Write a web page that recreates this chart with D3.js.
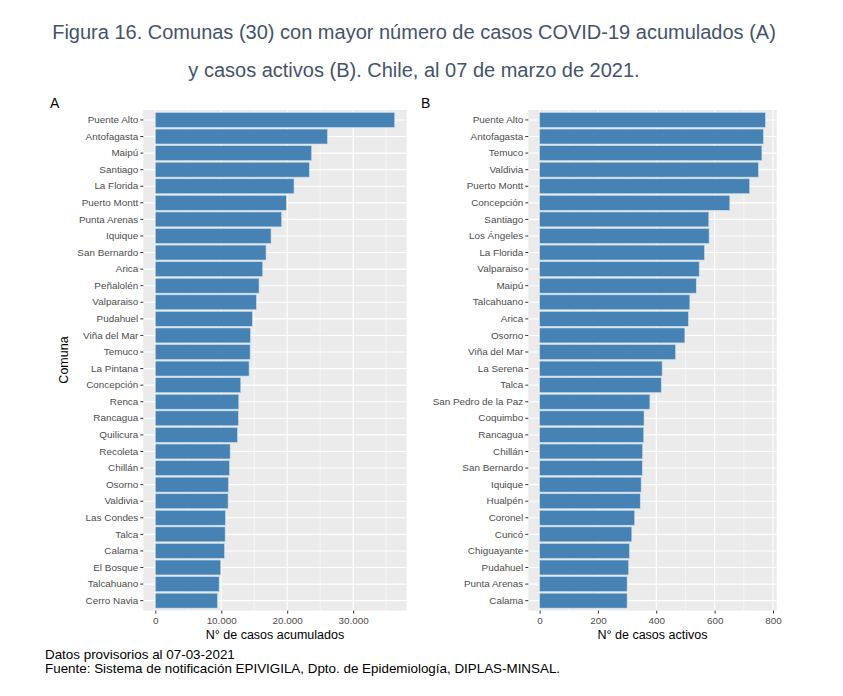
<!DOCTYPE html>
<html>
<head>
<meta charset="utf-8">
<script src="https://cdn.jsdelivr.net/npm/d3@7"></script>
<style>
  body { margin: 0; background: #fff; }
  svg { display: block; font-family: "Liberation Sans", Arial, sans-serif; }
</style>
</head>
<body>
<svg id="chart" width="843" height="696"></svg>
<script>
// ---- Data ----
const comunasA = ["Puente Alto","Antofagasta","Maipú","Santiago","La Florida","Puerto Montt","Punta Arenas","Iquique","San Bernardo","Arica","Peñalolén","Valparaiso","Pudahuel","Viña del Mar","Temuco","La Pintana","Concepción","Renca","Rancagua","Quilicura","Recoleta","Chillán","Osorno","Valdivia","Las Condes","Talca","Calama","El Bosque","Talcahuano","Cerro Navia"];
const acumulados = [36300,26100,23700,23350,21030,19870,19160,17550,16790,16290,15730,15330,14720,14420,14380,14220,12960,12660,12600,12460,11350,11250,11090,11040,10640,10590,10490,9930,9680,9430];
const ticksA = [0,10000,20000,30000];
const minorA = [5000,15000,25000,35000];

const comunasB = ["Puente Alto","Antofagasta","Temuco","Valdivia","Puerto Montt","Concepción","Santiago","Los Ángeles","La Florida","Valparaiso","Maipú","Talcahuano","Arica","Osorno","Viña del Mar","La Serena","Talca","San Pedro de la Paz","Coquimbo","Rancagua","Chillán","San Bernardo","Iquique","Hualpén","Coronel","Curicó","Chiguayante","Pudahuel","Punta Arenas","Calama"];
const activos = [774,767,762,750,720,652,580,581,565,547,537,515,510,498,466,420,417,378,358,357,353,352,348,345,326,316,308,305,300,300];
const ticksB = [0,200,400,600,800];
const minorB = [100,300,500,700];

const titleLines = ["Figura 16. Comunas (30) con mayor número de casos COVID-19 acumulados (A)",
                    "y casos activos (B). Chile, al 07 de marzo de 2021."];
const footLines = ["Datos provisorios al 07-03-2021",
                   "Fuente: Sistema de notificación EPIVIGILA, Dpto. de Epidemiología, DIPLAS-MINSAL."];

// ---- Setup ----
const svg = d3.select("#chart");
svg.append("rect").attr("width",843).attr("height",696).attr("fill","#fff");

const loc = d3.formatLocale({decimal:",", thousands:".", grouping:[3], currency:["$",""]});
const fmt = loc.format(",d");

svg.selectAll("text.title").data(titleLines).join("text")
  .attr("class","title")
  .attr("x",414).attr("y",(d,i)=>39+i*38)
  .attr("text-anchor","middle")
  .attr("font-size",20)
  .attr("fill","#44546A")
  .text(d=>d);

svg.selectAll("text.foot").data(footLines).join("text")
  .attr("class","foot")
  .attr("x",45).attr("y",(d,i)=>659+i*14.3)
  .attr("font-size",13.4)
  .attr("fill","#000")
  .text(d=>d);

function panel(opts){
  const {cats, vals, ticks, minor, left, right, top, bottom, letter, letterX, xTitle, format} = opts;
  const g = svg.append("g");
  const maxV = d3.max(vals);
  const x = d3.scaleLinear().domain([-0.05*maxV, 1.05*maxV]).range([left,right]);
  const y = d3.scaleBand().domain(cats).range([top,bottom]).paddingInner(0.1).paddingOuter(0.15);

  g.append("rect").attr("x",left).attr("y",top).attr("width",right-left).attr("height",bottom-top).attr("fill","#EBEBEB");
  // minor grid
  g.selectAll("line.minor").data(minor).join("line")
    .attr("x1",d=>x(d)).attr("x2",d=>x(d)).attr("y1",top).attr("y2",bottom)
    .attr("stroke","#fff").attr("stroke-width",0.55);
  // major grid x
  g.selectAll("line.majx").data(ticks).join("line")
    .attr("x1",d=>x(d)).attr("x2",d=>x(d)).attr("y1",top).attr("y2",bottom)
    .attr("stroke","#fff").attr("stroke-width",1.1);
  // major grid y
  g.selectAll("line.majy").data(cats).join("line")
    .attr("x1",left).attr("x2",right)
    .attr("y1",d=>y(d)+y.bandwidth()/2).attr("y2",d=>y(d)+y.bandwidth()/2)
    .attr("stroke","#fff").attr("stroke-width",1.1);
  // bars
  g.selectAll("rect.bar").data(cats).join("rect")
    .attr("x",x(0)).attr("y",d=>y(d))
    .attr("width",(d,i)=>x(vals[i])-x(0))
    .attr("height",y.bandwidth())
    .attr("fill","#4682B4")
    .attr("stroke","#C9DDEE").attr("stroke-width",0.6);

  // y axis
  const ya = g.append("g").attr("transform",`translate(${left},0)`)
    .call(d3.axisLeft(y).tickSize(3).tickPadding(2));
  ya.select(".domain").remove();
  ya.selectAll(".tick line").attr("stroke","#333").attr("stroke-width",1);
  ya.selectAll(".tick text").attr("fill","#4D4D4D").attr("font-size",9.9)
    .attr("font-family","'Liberation Sans', Arial, sans-serif");

  // x axis
  const xa = g.append("g").attr("transform",`translate(0,${bottom})`)
    .call(d3.axisBottom(x).tickValues(ticks).tickFormat(format).tickSize(3).tickPadding(3));
  xa.select(".domain").remove();
  xa.selectAll(".tick line").attr("stroke","#333").attr("stroke-width",1);
  xa.selectAll(".tick text").attr("fill","#4D4D4D").attr("font-size",9.9)
    .attr("font-family","'Liberation Sans', Arial, sans-serif");

  g.append("text").attr("x",(left+right)/2).attr("y",bottom+28)
    .attr("text-anchor","middle").attr("font-size",12.5).attr("fill","#000").text(xTitle);

  g.append("text").attr("x",letterX).attr("y",108)
    .attr("font-size",14).attr("fill","#000").text(letter);
  return {x,y};
}

panel({cats:comunasA, vals:acumulados, ticks:ticksA, minor:minorA,
  left:143.3, right:406.7, top:110, bottom:610.6,
  letter:"A", letterX:50, xTitle:"N° de casos acumulados", format:fmt});

panel({cats:comunasB, vals:activos, ticks:ticksB, minor:minorB,
  left:528.3, right:776.7, top:110, bottom:610.6,
  letter:"B", letterX:421, xTitle:"N° de casos activos", format:d3.format("d")});

svg.append("text")
  .attr("transform","translate(68,360) rotate(-90)")
  .attr("text-anchor","middle").attr("font-size",12.5).attr("fill","#000")
  .text("Comuna");
</script>
</body>
</html>
